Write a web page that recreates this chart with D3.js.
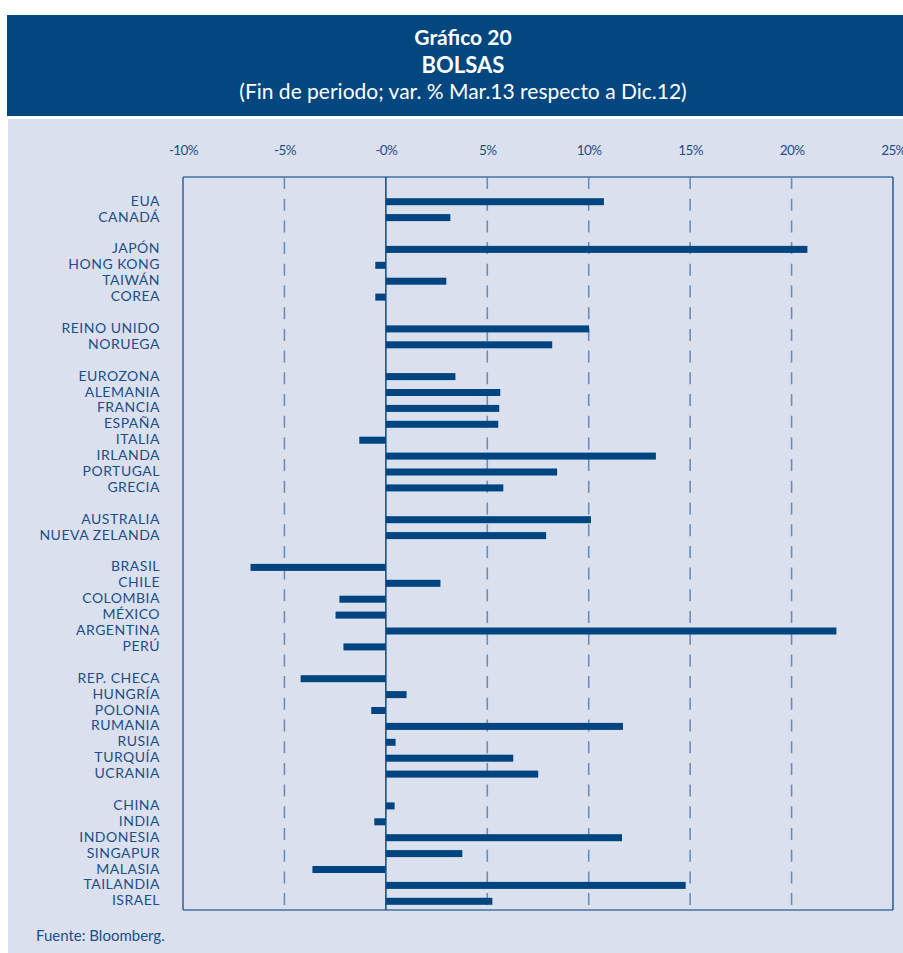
<!DOCTYPE html>
<html>
<head>
<meta charset="utf-8">
<script src="https://cdn.jsdelivr.net/npm/d3@7"></script>
<style>
  body { margin: 0; background: #fff; }
  svg { display: block; font-family: Lato, "Open Sans", sans-serif; }
</style>
</head>
<body>
<div id="chart"></div>
<script>
// countries in chart order (top to bottom)
const countries = ["EUA", "CANADÁ",
  "JAPÓN", "HONG KONG", "TAIWÁN", "COREA",
  "REINO UNIDO", "NORUEGA",
  "EUROZONA", "ALEMANIA", "FRANCIA", "ESPAÑA", "ITALIA", "IRLANDA", "PORTUGAL", "GRECIA",
  "AUSTRALIA", "NUEVA ZELANDA",
  "BRASIL", "CHILE", "COLOMBIA", "MÉXICO", "ARGENTINA", "PERÚ",
  "REP. CHECA", "HUNGRÍA", "POLONIA", "RUMANIA", "RUSIA", "TURQUÍA", "UCRANIA",
  "CHINA", "INDIA", "INDONESIA", "SINGAPUR", "MALASIA", "TAILANDIA", "ISRAEL"];

// var. % Mar.13 respecto a Dic.12
const values = [10.75, 3.18,
  20.78, -0.52, 2.98, -0.52,
  10.02, 8.2,
  3.43, 5.64, 5.59, 5.54, -1.31, 13.31, 8.44, 5.79,
  10.11, 7.9,
  -6.67, 2.69, -2.29, -2.48, 22.21, -2.09,
  -4.2, 1.02, -0.72, 11.69, 0.48, 6.28, 7.51,
  0.43, -0.57, 11.64, 3.77, -3.62, 14.78, 5.25];

// a blank row goes before each of these
const groupStarts = ["JAPÓN", "REINO UNIDO", "EUROZONA", "AUSTRALIA", "BRASIL", "REP. CHECA", "CHINA"];

const tickValues = [-10, -5, 0, 5, 10, 15, 20, 25];

const W = 903, H = 953;
const blue = "#00457f", textBlue = "#1c4f88";

const data = countries.map((c, i) => ({country: c, value: values[i]}));

let rows = [];
countries.forEach((c, i) => {
    if (groupStarts.includes(c)) rows.push("gap" + i);
    rows.push(c);
});

const svg = d3.select("#chart").append("svg")
    .attr("width", W)
    .attr("height", H);

// header band
svg.append("rect")
    .attr("x", 7).attr("y", 15)
    .attr("width", W - 7).attr("height", 101)
    .attr("fill", "#02477f");

svg.append("rect")
    .attr("x", 8).attr("y", 119)
    .attr("width", W - 8).attr("height", H - 119)
    .attr("fill", "#dbe0ee");

const titles = [
    {t: "Gráfico 20", y: 45, size: 21, w: "bold"},
    {t: "BOLSAS", y: 73, size: 22, w: "bold"},
    {t: "(Fin de periodo; var. % Mar.13 respecto a Dic.12)", y: 99, size: 21, w: "normal"}
];
svg.selectAll(".title").data(titles).join("text")
    .attr("class", "title")
    .attr("x", 463).attr("y", d => d.y)
    .attr("text-anchor", "middle")
    .attr("fill", "#fff")
    .attr("font-size", d => d.size)
    .attr("font-weight", d => d.w)
    .text(d => d.t);

const plot = {left: 183, right: 893, top: 177, bottom: 910};

const x = d3.scaleLinear()
    .domain([-10, 25])
    .range([plot.left, plot.right]);

const y = d3.scalePoint()
    .domain(rows)
    .range([201.7, 901.3]);

// dashed gridlines
svg.append("g")
    .selectAll("line")
    .data(tickValues.filter(d => d > -10 && d < 25 && d !== 0))
    .join("line")
    .attr("x1", d => x(d)).attr("x2", d => x(d))
    .attr("y1", plot.top).attr("y2", plot.bottom)
    .attr("stroke", "#6a8db5")
    .attr("stroke-width", 1.6)
    .attr("stroke-dasharray", "12,9.7");

// frame
svg.append("line")
    .attr("x1", plot.left).attr("x2", plot.right)
    .attr("y1", plot.top).attr("y2", plot.top)
    .attr("stroke", "#6a8db5").attr("stroke-width", 2);
svg.append("line")
    .attr("x1", plot.left).attr("x2", plot.right)
    .attr("y1", plot.bottom).attr("y2", plot.bottom)
    .attr("stroke", "#6a8db5").attr("stroke-width", 2);
svg.append("line")
    .attr("x1", plot.left).attr("x2", plot.left)
    .attr("y1", plot.top).attr("y2", plot.bottom)
    .attr("stroke", "#3d6899").attr("stroke-width", 1.6);
svg.append("line")
    .attr("x1", plot.right).attr("x2", plot.right)
    .attr("y1", plot.top).attr("y2", plot.bottom)
    .attr("stroke", "#1e508a").attr("stroke-width", 1.4);

// bars
const barH = 7;
svg.append("g")
    .selectAll("rect")
    .data(data)
    .join("rect")
    .attr("x", d => x(Math.min(0, d.value)))
    .attr("y", d => y(d.country) - barH / 2)
    .attr("width", d => Math.abs(x(d.value) - x(0)))
    .attr("height", barH)
    .attr("fill", blue);

// zero line
svg.append("line")
    .attr("x1", x(0)).attr("x2", x(0))
    .attr("y1", plot.top).attr("y2", plot.bottom)
    .attr("stroke", "#0b4a85").attr("stroke-width", 1.5);

// top axis labels
const xAxis = d3.axisTop(x)
    .tickValues(tickValues)
    .tickSize(0)
    .tickPadding(3)
    .tickFormat(d => (d === 0 ? "-0" : d) + "%");

svg.append("g")
    .attr("transform", "translate(0,158)")
    .call(xAxis)
    .call(g => g.select(".domain").remove())
    .call(g => g.selectAll("text")
        .attr("fill", textBlue)
        .attr("font-size", 13.5)
        .attr("letter-spacing", -0.6)
        .attr("font-family", "Lato, sans-serif"));

// country labels
svg.append("g")
    .selectAll("text")
    .data(data)
    .join("text")
    .attr("x", 160)
    .attr("y", d => y(d.country) - 1)
    .attr("dy", "0.36em")
    .attr("text-anchor", "end")
    .attr("fill", textBlue)
    .attr("font-size", 14)
    .attr("letter-spacing", 0.5)
    .text(d => d.country);

svg.append("text")
    .attr("x", 36).attr("y", 941)
    .attr("fill", textBlue)
    .attr("font-size", 15)
    .text("Fuente: Bloomberg.");
</script>
</body>
</html>
